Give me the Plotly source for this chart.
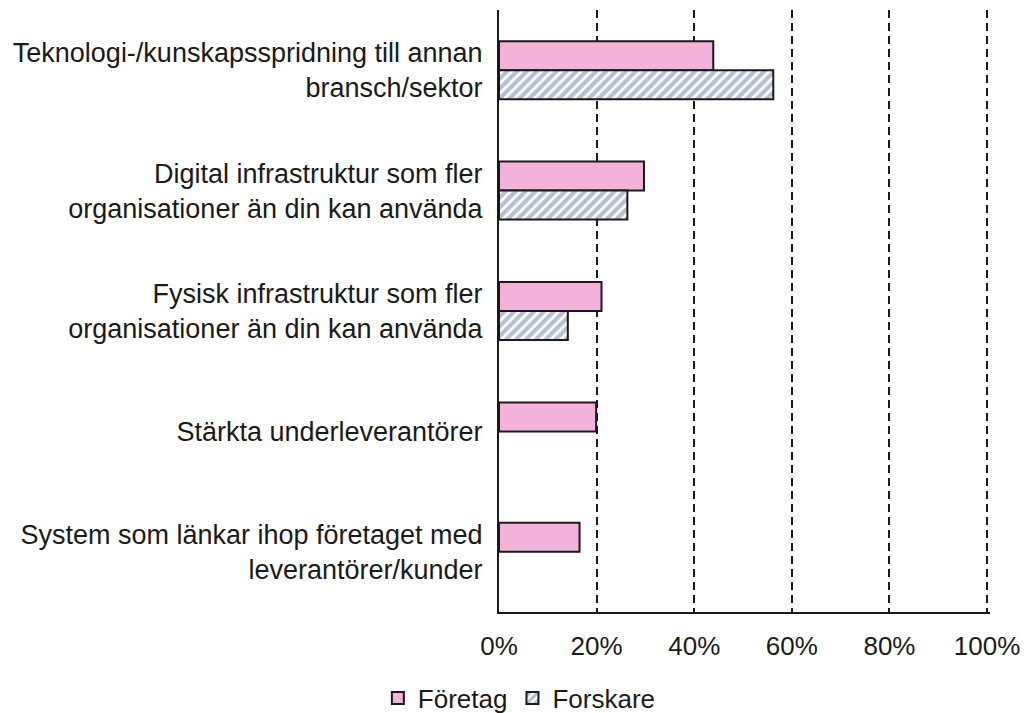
import plotly.graph_objects as go

categories = [
    "Teknologi-/kunskapsspridning till annan<br>bransch/sektor",
    "Digital infrastruktur som fler<br>organisationer än din kan använda",
    "Fysisk infrastruktur som fler<br>organisationer än din kan använda",
    "Stärkta underleverantörer",
    "System som länkar ihop företaget med<br>leverantörer/kunder",
]
foretag = [0.439, 0.297, 0.210, 0.199, 0.165]
forskare = [0.562, 0.263, 0.141, None, None]
tick_vals = [0, 0.2, 0.4, 0.6, 0.8, 1.0]
tick_text = ["0%", "20%", "40%", "60%", "80%", "100%"]

fig = go.Figure()
fig.add_trace(go.Bar(
    name="Företag", y=categories, x=foretag, orientation="h",
    marker=dict(color="#F2B2DA", line=dict(color="#1a1a1a", width=2)),
))
fig.add_trace(go.Bar(
    name="Forskare", y=categories, x=forskare, orientation="h",
    marker=dict(color="white", line=dict(color="#1a1a1a", width=2),
                pattern=dict(shape="/", fgcolor="#6E81A8", bgcolor="white",
                             size=7, solidity=0.6)),
))

fig.update_layout(
    width=1024, height=713,
    paper_bgcolor="white", plot_bgcolor="white",
    barmode="group", bargap=0.518, bargroupgap=0,
    margin=dict(l=499, r=34, t=10, b=101),
    font=dict(family="Liberation Sans, Arial, sans-serif", size=26, color="#1a1a1a"),
    legend=dict(orientation="h", xref="container", yref="container",
                x=0.369, xanchor="left", y=0.021, yanchor="middle",
                traceorder="normal", itemwidth=30, font=dict(size=26)),
    xaxis=dict(range=[0, 1.006], tickvals=tick_vals, ticktext=tick_text,
               showgrid=True, gridcolor="#1a1a1a", griddash="8px,5px", gridwidth=2,
               zeroline=False, showline=True, linecolor="#1a1a1a", linewidth=2,
               ticks="", ticklabelstandoff=10, ticklabeloverflow="allow",
               automargin=False, tickfont=dict(size=26)),
    yaxis=dict(autorange="reversed", showline=True, linecolor="#1a1a1a", linewidth=2,
               ticks="", ticklabelstandoff=9, showgrid=False, automargin=False,
               tickfont=dict(size=27)),
)

fig.write_html("out.html", config={"displayModeBar": False},
               post_script="document.body.style.margin='0';")
